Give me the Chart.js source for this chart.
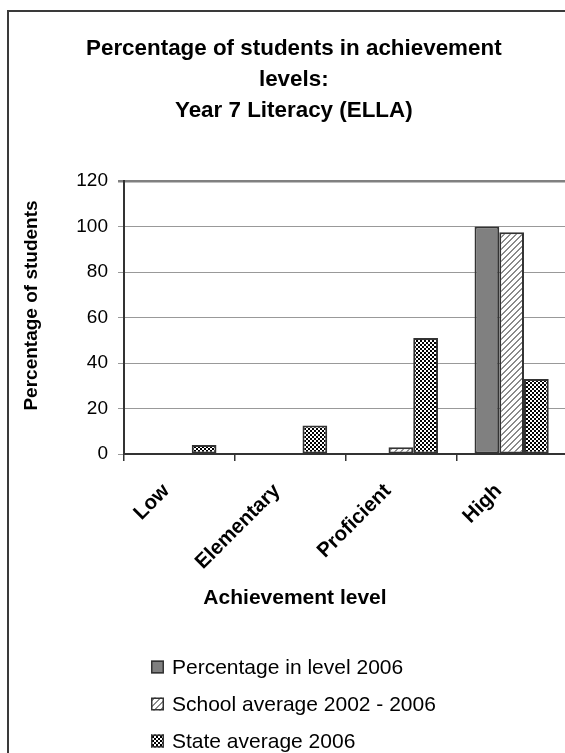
<!DOCTYPE html>
<html>
<head>
<meta charset="utf-8">
<script src="https://cdn.jsdelivr.net/npm/chart.js@4.4.1/dist/chart.umd.min.js"></script>
<style>
  html, body { margin: 0; padding: 0; background: #fff; overflow: hidden; width: 565px; height: 753px; }
  #wrap { position: relative; width: 565px; height: 753px; overflow: hidden; }
  #frame { position: absolute; left: 7px; top: 10px; width: 700px; height: 900px; border: 2px solid #3a3a3a; box-sizing: border-box; }
  canvas { position: absolute; left: 0; top: 0; }
</style>
</head>
<body>
<div id="wrap">
  <div id="frame"></div>
  <canvas id="c" width="580" height="753"></canvas>
</div>
<script>
// ---- data ----
const categories = ['Low', 'Elementary', 'Proficient', 'High'];
const seriesNames = ['Percentage in level 2006', 'School average 2002 - 2006', 'State average 2006'];
const pctLevel2006 = [0, 0, 0, 100];
const schoolAvg2002to2006 = [0, 0, 3, 97.5];
const stateAvg2006 = [4, 12.5, 51, 33];
const titleLines = ['Percentage of students in achievement', 'levels:', 'Year 7 Literacy (ELLA)'];
const yAxisTitle = 'Percentage of students';
const xAxisTitle = 'Achievement level';

// ---- patterns ----
function checkerPattern() {
  const t = document.createElement('canvas');
  t.width = 4; t.height = 4;
  const g = t.getContext('2d');
  g.fillStyle = '#fff'; g.fillRect(0, 0, 4, 4);
  g.fillStyle = '#000';
  g.fillRect(0, 0, 2, 2);
  g.fillRect(2, 2, 2, 2);
  return g.createPattern(t, 'repeat');
}
function hatchPattern() {
  const n = 6;
  const t = document.createElement('canvas');
  t.width = n; t.height = n;
  const g = t.getContext('2d');
  g.fillStyle = '#fff'; g.fillRect(0, 0, n, n);
  g.fillStyle = '#8a8a8a';
  for (let i = 0; i < n; i++) {
    g.fillRect(i, (n - 1 - i + n) % n, 1, 1);
    g.fillRect(i, (n - i + n) % n, 1, 1);
  }
  return g.createPattern(t, 'repeat');
}
const fills = ['#808080', hatchPattern(), checkerPattern()];
const FONT = "'Liberation Sans', Arial, sans-serif";

const legendPlugin = {
  id: 'vertLegend',
  afterDraw(chart) {
    const ctx = chart.ctx;
    const x0 = 151, y0 = 667, step = 37, box = 13;
    ctx.save();
    ctx.font = '21px ' + FONT;
    ctx.textBaseline = 'middle';
    ctx.textAlign = 'left';
    chart.data.datasets.forEach((ds, i) => {
      const y = y0 + i * step;
      ctx.fillStyle = ds.backgroundColor;
      ctx.fillRect(x0, y - box / 2, box, box);
      ctx.strokeStyle = '#333';
      ctx.lineWidth = 1.5;
      ctx.strokeRect(x0 + 0.75, y - box / 2 + 0.75, box - 1.5, box - 1.5);
      ctx.fillStyle = '#000';
      ctx.fillText(ds.label, x0 + 21, y + 1);
    });
    ctx.restore();
  }
};

// axis titles placed like the original (slightly off-centre)
const axisTitlePlugin = {
  id: 'axisTitles',
  afterDraw(chart) {
    const ctx = chart.ctx;
    const ca = chart.chartArea;
    ctx.save();
    ctx.fillStyle = '#000';
    ctx.textAlign = 'center';
    ctx.textBaseline = 'middle';
    ctx.font = 'bold 21px ' + FONT;
    ctx.fillText(xAxisTitle, ca.left + 171, ca.bottom + 144);
    ctx.translate(32, (ca.top + ca.bottom) / 2 - 12);
    ctx.rotate(-Math.PI / 2);
    ctx.font = 'bold 19px ' + FONT;
    ctx.fillText(yAxisTitle, 0, 0);
    ctx.restore();
  }
};

const dataSeries = [pctLevel2006, schoolAvg2002to2006, stateAvg2006];

new Chart(document.getElementById('c'), {
  type: 'bar',
  data: {
    labels: categories,
    datasets: dataSeries.map((d, i) => ({
      label: seriesNames[i],
      data: d,
      backgroundColor: fills[i],
      borderColor: '#333',
      borderWidth: 2,
      borderSkipped: false,
      categoryPercentage: 0.67,
      barPercentage: 1.0
    }))
  },
  options: {
    responsive: false,
    animation: false,
    devicePixelRatio: 1,
    layout: { padding: { left: 20.6, right: 13, top: 0, bottom: 142.4 } },
    plugins: {
      legend: { display: false },
      tooltip: { enabled: false },
      title: {
        display: true,
        text: titleLines,
        color: '#000',
        font: { family: FONT, size: 22.4, weight: 'bold', lineHeight: 1.384 },
        padding: { top: 33.5, bottom: 54.5 }
      }
    },
    scales: {
      x: {
        afterFit(scale) { scale.height = 156.6; },
        grid: { display: true, drawOnChartArea: false, drawTicks: true, tickLength: 7, color: '#333', lineWidth: 1.5 },
        border: { display: true, color: '#333', width: 2 },
        ticks: {
          color: '#000',
          font: { family: FONT, size: 20.5, weight: 'bold' },
          minRotation: 45, maxRotation: 45,
          padding: 18,
          labelOffset: -13
        },
        title: { display: false, text: xAxisTitle }
      },
      y: {
        min: 0, max: 120,
        afterFit(scale) { scale.width = 103.4; },
        ticks: { stepSize: 20, color: '#000', font: { family: FONT, size: 19 }, padding: 10 },
        grid: {
          color: (c) => (c.tick && c.tick.value === 120) ? '#808080' : '#999',
          lineWidth: (c) => (c.tick && c.tick.value === 120) ? 2.5 : 1,
          tickLength: 6, drawTicks: true
        },
        border: { display: true, color: '#333', width: 2 },
        title: { display: false, text: yAxisTitle }
      }
    }
  },
  plugins: [legendPlugin, axisTitlePlugin]
});
</script>
</body>
</html>
